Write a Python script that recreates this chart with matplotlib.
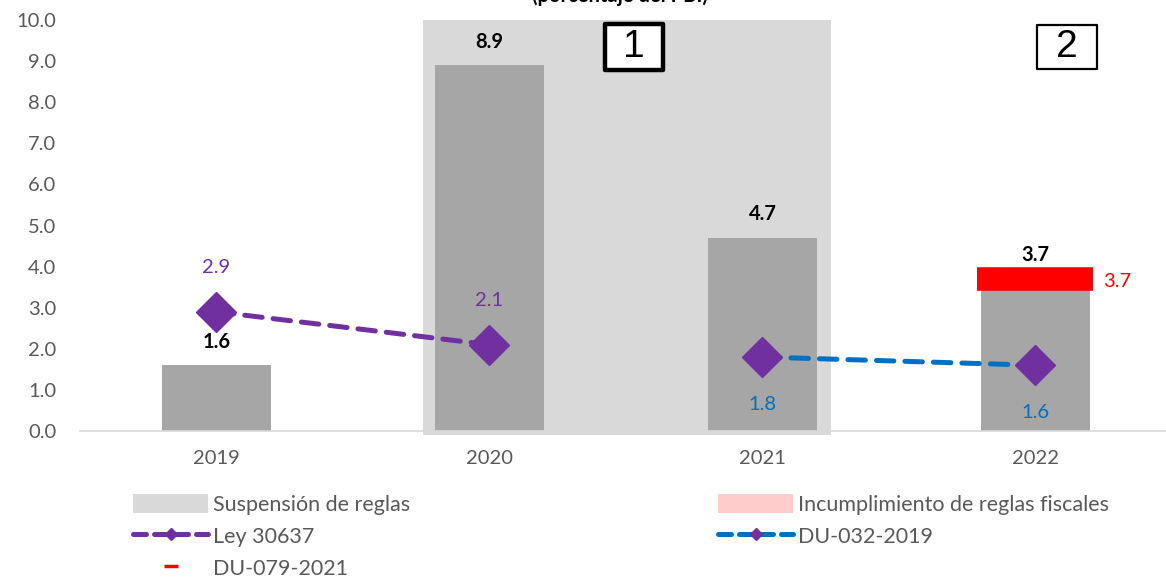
"""
Resultado fiscal vs. reglas fiscales, 2019-2022
"""

import numpy as np
import matplotlib
matplotlib.use('Agg')
import matplotlib.pyplot as plt
from matplotlib.lines import Line2D
from matplotlib.patches import Patch, Rectangle

plt.rcParams['font.family'] = ['Lato', 'DejaVu Sans']

# data
years = ['2019', '2020', '2021', '2022']
deficit = [1.6, 8.9, 4.7, 3.7]
ley_30637_years = ['2019', '2020']
ley_30637 = [2.9, 2.1]
du_032_years = ['2021', '2022']
du_032 = [1.8, 1.6]
du_079_years = ['2022']
du_079 = [3.7]
suspension_years = ['2020', '2021']
title = '(porcentaje del PBI)'

GRAY_TXT = '#595959'
BAR = '#a6a6a6'
SUSP = '#d9d9d9'
PURPLE = '#7030a0'
BLUE = '#0070c0'
RED = '#ff0000'

x = np.arange(len(years))
pos = {y: i for i, y in enumerate(years)}

fig = plt.figure(figsize=(11.66, 5.78), dpi=100)
ax = fig.add_axes([0.0686, 0.2543, 0.9365, 0.7111])

# shaded suspension period
s0 = pos[suspension_years[0]] - 0.243
s1 = pos[suspension_years[1]] + 0.252
span = ax.axvspan(s0, s1, ymin=-0.01, ymax=1.0, color=SUSP, zorder=0, lw=0)
span.set_clip_on(False)

# bars
ax.bar(x, deficit, width=0.40, color=BAR, zorder=2)
for xi, v in zip(x, deficit):
    ax.annotate(f'{v:.1f}', (xi, v), xytext=(0, 17), textcoords='offset points',
                ha='center', va='center', fontsize=14.5, fontweight='bold', color='black', zorder=6)

# DU-079-2021 marker
xr = [pos[y] for y in du_079_years]
ax.plot(xr, du_079, linestyle='none', marker='_', markersize=83, markeredgewidth=17,
        color=RED, zorder=4)
for xi, v in zip(xr, du_079):
    ax.annotate(f'{v:.1f}', (xi, v), xytext=(59, -2), textcoords='offset points',
                ha='center', va='center', fontsize=14.5, color=RED)

# rule lines
dash = dict(linewidth=3.6, dashes=(3.5, 2.2), dash_capstyle='round', marker='D',
            markersize=20, markerfacecolor=PURPLE, markeredgecolor=PURPLE, zorder=5)
xl = [pos[y] for y in ley_30637_years]
ax.plot(xl, ley_30637, color=PURPLE, **dash)
for xi, v in zip(xl, ley_30637):
    ax.annotate(f'{v:.1f}', (xi, v), xytext=(0, 32), textcoords='offset points',
                ha='center', va='center', fontsize=14.5, color=PURPLE)

xd = [pos[y] for y in du_032_years]
ax.plot(xd, du_032, color=BLUE, **dash)
for xi, v in zip(xd, du_032):
    ax.annotate(f'{v:.1f}', (xi, v), xytext=(0, -34), textcoords='offset points',
                ha='center', va='center', fontsize=14.5, color=BLUE)

# period boxes
for (bx, by, bw, bh, lw, lab) in [(0.4808, 0.878, 0.0531, 0.112, 3.2, '1'),
                                  (0.8764, 0.881, 0.0549, 0.107, 1.6, '2')]:
    ax.add_patch(Rectangle((bx, by), bw, bh, transform=ax.transAxes, fc='white',
                           ec='black', lw=lw, zorder=7, joinstyle='round'))
    ax.text(bx + bw / 2, by + bh / 2, lab, transform=ax.transAxes, ha='center', va='center',
            fontsize=28, family='Liberation Sans', zorder=8)

# axes styling
ax.set_xlim(-0.5, 3.5)
ax.set_ylim(0, 10)
ax.set_yticks(np.arange(0, 10.5, 1.0))
ax.set_yticklabels([f'{t:.1f}' for t in np.arange(0, 10.5, 1.0)])
ax.set_xticks(x)
ax.set_xticklabels(years)
ax.tick_params(axis='both', length=0, labelsize=14.5, labelcolor=GRAY_TXT)
ax.tick_params(axis='y', pad=17)
ax.tick_params(axis='x', pad=14)
for side in ['top', 'right', 'left']:
    ax.spines[side].set_visible(False)
ax.spines['bottom'].set_color(SUSP)
ax.spines['bottom'].set_linewidth(1.2)
ax.set_facecolor('none')

# title sits mostly above the canvas, as in the source image
fig.text(0.532, 1 - 1.5 / 578, title, ha='center', va='baseline', fontsize=14.5, fontweight='bold')

# legend
leg_kw = dict(frameon=False, fontsize=15.5, handlelength=3.5, handleheight=1.0,
              handletextpad=0.2, labelspacing=0.5, borderpad=0, borderaxespad=0,
              labelcolor=GRAY_TXT)
h_susp = Patch(facecolor=SUSP, edgecolor='none', label='Suspensión de reglas')
h_ley = Line2D([], [], color=PURPLE, lw=3.6, dashes=(2.6, 1.6), dash_capstyle='round', marker='D',
               markersize=6.5, markerfacecolor=PURPLE, markeredgecolor=PURPLE, label='Ley 30637')
h_079 = Line2D([], [], color=RED, linestyle='none', marker='_', markersize=10,
               markeredgewidth=2.5, label='DU-079-2021')
h_inc = Patch(facecolor='#ffcccc', edgecolor='none', label='Incumplimiento de reglas fiscales')
h_032 = Line2D([], [], color=BLUE, lw=3.6, dashes=(2.6, 1.6), dash_capstyle='round', marker='D',
               markersize=6.5, markerfacecolor=PURPLE, markeredgecolor=PURPLE, label='DU-032-2019')

fig.legend(handles=[h_susp, h_ley, h_079], loc='upper left',
           bbox_to_anchor=(133 / 1166, 1 - 494 / 578), **leg_kw)
fig.legend(handles=[h_inc, h_032], loc='upper left',
           bbox_to_anchor=(718 / 1166, 1 - 494 / 578), **leg_kw)

plt.savefig('out.png', dpi=100)
plt.close()
